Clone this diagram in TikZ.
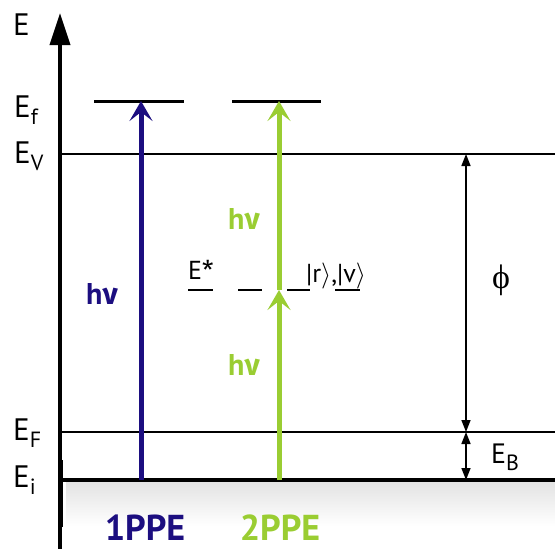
\documentclass[tikz,border=0pt]{standalone}
\usepackage{fix-cm}
\usepackage{fontspec}
\setmainfont{PT Sans}
\newfontfamily\grk{Fira Sans}
\newfontfamily\srf{Liberation Serif}
\usetikzlibrary{arrows.meta}
\definecolor{navyone}{RGB}{28,14,128}
\definecolor{limeone}{RGB}{154,205,50}
\newcommand{\hnu}{h{\grk ν}}
\newcommand{\lsub}[1]{\raisebox{-7pt}{\fontsize{22}{22}\selectfont #1}}
\begin{document}
\begin{tikzpicture}[x=1pt,y=-1pt,
  lbl/.style={font=\fontsize{31}{31}\selectfont, inner sep=0pt, anchor=base west},
  midlbl/.style={font=\fontsize{26}{26}\selectfont, inner sep=0pt, anchor=base west},
  hlbl/.style={font=\fontsize{30}{30}\selectfont\bfseries, inner sep=0pt, anchor=base west},
  ppe/.style={font=\fontsize{36}{36}\selectfont\bfseries, inner sep=0pt, anchor=base},
  thinlevel/.style={line width=1.5pt},
  thicklevel/.style={line width=3.5pt},
  toplevel/.style={line width=3pt},
  photon/.style={line width=5pt, -{Stealth[length=20pt,width=23pt,inset=9pt]}},
  dim/.style={line width=1.5pt, {Triangle[length=12pt,width=9pt]}-{Triangle[length=12pt,width=9pt]}},
  dashlvl/.style={line width=1.8pt}
]
\useasboundingbox (0,0) rectangle (555,549);
% shadow under E_i
\shade[top color=gray!22, bottom color=white] (66,482) rectangle (555,526);

% coordinates
\coordinate (axb) at (60,549);
\coordinate (axt) at (60,13);
\coordinate (vL) at (60,154);  \coordinate (vR) at (555,154);
\coordinate (fL) at (60,432);  \coordinate (fR) at (555,432);
\coordinate (iL) at (60,480);  \coordinate (iR) at (555,480);
\coordinate (t1L) at (94,101); \coordinate (t1R) at (184,101);
\coordinate (t2L) at (232,101); \coordinate (t2R) at (321,101);
\coordinate (b0) at (141,480); \coordinate (b1) at (141,101);
\coordinate (g0) at (279,480); \coordinate (gm) at (279,290); \coordinate (g1) at (279,101);
\coordinate (dV) at (466,154); \coordinate (dF) at (466,432); \coordinate (dI) at (466,480);

% axis
\draw[line width=3.5pt, -{Triangle[length=32pt,width=20pt]}] (axb) -- (axt);
\draw[line width=5pt] (60,460) -- (60,527);

% levels
\draw[thinlevel] (vL) -- (vR);
\draw[thinlevel] (fL) -- (fR);
\draw[thicklevel] (iL) -- (iR);
\draw[toplevel] (t1L) -- (t1R);
\draw[toplevel] (t2L) -- (t2R);

% photons
\draw[photon, navyone] (b0) -- (b1);
\draw[photon, limeone] (g0) -- (gm);
\draw[photon, limeone] (gm) -- (g1);

% dimension arrows
\draw[dim] (dF) -- (dV);
\draw[dim] (dI) -- (dF);

% left labels
\node[lbl] (E) at (13,35) {E};
\node[lbl] (Ef) at (14,117) {E\lsub{f}};
\node[lbl] (EV) at (14,163) {E\lsub{V}};
\node[lbl] (EF) at (13,440) {E\lsub{F}};
\node[lbl] (Ei) at (13,487) {E\lsub{i}};

% right labels
\node[inner sep=0pt, font=\fontsize{34}{34}\selectfont\srf] (phi) at (501,280) {ϕ};
\node[lbl, font=\fontsize{28}{28}\selectfont] (EB) at (491,463) {E\lsub{B}};

% photon labels
\node[hlbl, navyone] (h1) at (86,304) {\hnu};
\node[hlbl, limeone] (h2) at (228,229) {\hnu};
\node[hlbl, limeone] (h3) at (228,375) {\hnu};

% intermediate state
\node[midlbl] (Es) at (188,279) {E{\grk *}};
\node[midlbl] (rv) at (306,282) {|r$\rangle$,|v$\rangle$};
\draw[dashlvl] (188,290) -- (213,290);
\draw[dashlvl] (238,290) -- (262,290);
\draw[dashlvl] (287,290) -- (310,290);
\draw[dashlvl] (335,290) -- (360,290);

% bottom labels
\node[ppe, navyone] (p1) at (145,540) {1PPE};
\node[ppe, limeone] (p2) at (280,540) {2PPE};
\end{tikzpicture}
\end{document}
